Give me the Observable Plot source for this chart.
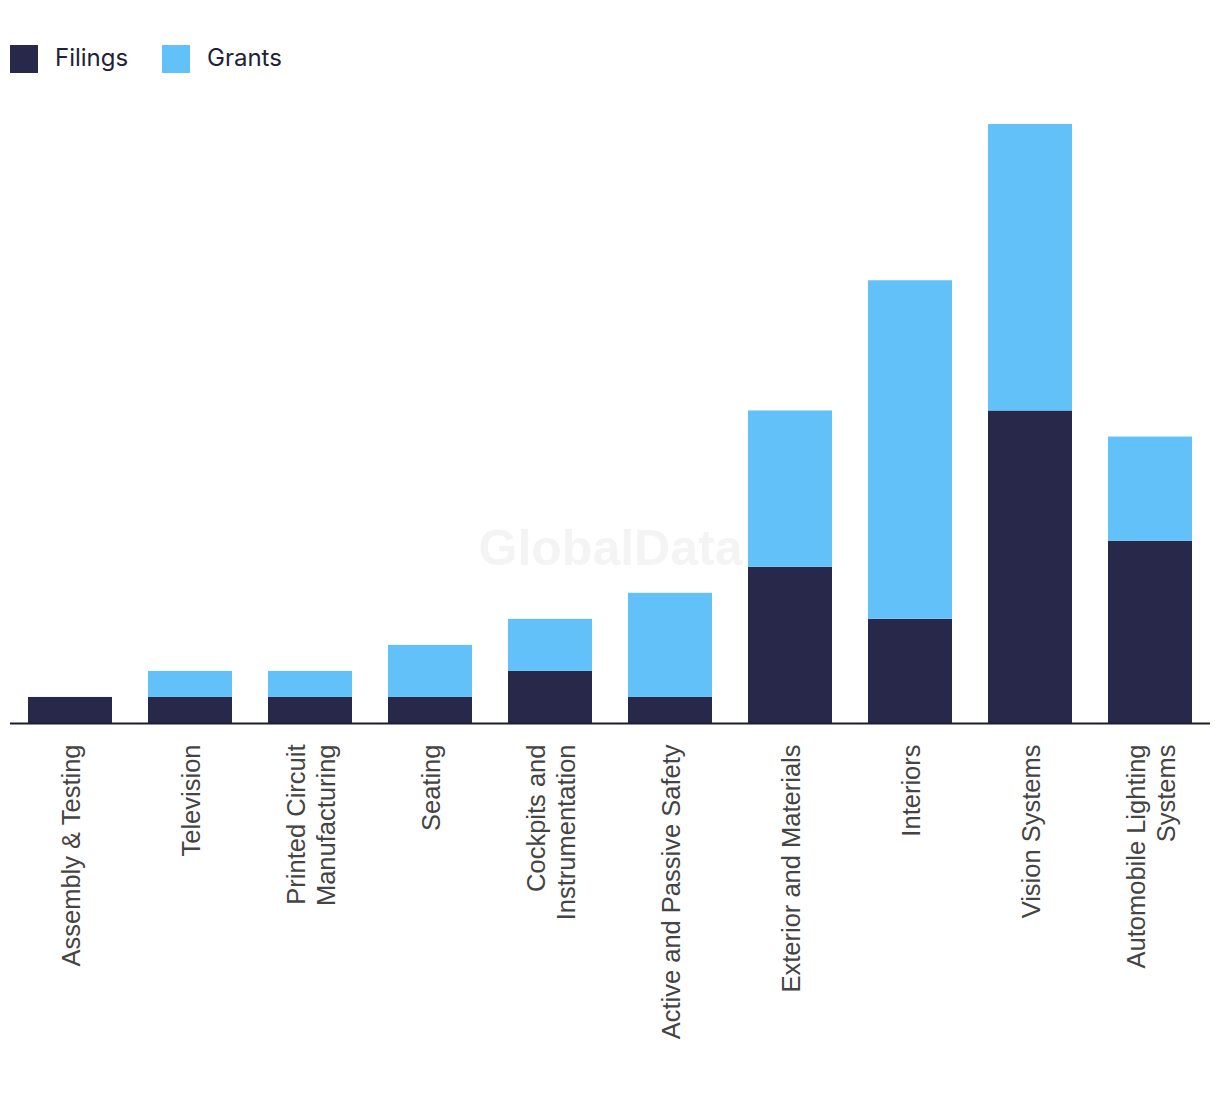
<!DOCTYPE html>
<html>
<head>
<meta charset="utf-8">
<script src="https://cdn.jsdelivr.net/npm/d3@7"></script>
<script src="https://cdn.jsdelivr.net/npm/@observablehq/plot@0.6"></script>
<style>
  html, body { margin: 0; padding: 0; background: #fff; }
  #legend { position: relative; height: 100px; width: 1220px; font-family: Inter, "Noto Sans", sans-serif; color: #20213a; font-size: 24px; }
  .sw { position: absolute; top: 45px; width: 28px; height: 28px; }
  .lab { position: absolute; top: 44px; line-height: 28px; }
  #chart svg { display: block; }
</style>
</head>
<body>
<div id="legend"></div>
<div id="chart"></div>
<script>
const categories = [
  "Assembly & Testing",
  "Television",
  "Printed Circuit\nManufacturing",
  "Seating",
  "Cockpits and\nInstrumentation",
  "Active and Passive Safety",
  "Exterior and Materials",
  "Interiors",
  "Vision Systems",
  "Automobile Lighting\nSystems"
];
const filings = [1, 1, 1, 1, 2, 1, 6, 4, 12, 7];
const grants  = [0, 1, 1, 2, 2, 4, 6, 13, 11, 4];
const seriesNames = ["Filings", "Grants"];
const seriesColors = ["#27284a", "#62c1f8"];

const rows = [];
categories.forEach((c, i) => {
  rows.push({category: c, series: "Filings", value: filings[i]});
  rows.push({category: c, series: "Grants", value: grants[i]});
});

// Legend
const legend = document.getElementById("legend");
const legendX = [[10, 55], [162, 207]];
seriesNames.forEach((s, i) => {
  const sw = document.createElement("div");
  sw.className = "sw";
  sw.style.left = legendX[i][0] + "px";
  sw.style.background = seriesColors[i];
  legend.appendChild(sw);
  const lb = document.createElement("div");
  lb.className = "lab";
  lb.style.left = legendX[i][1] + "px";
  lb.textContent = s;
  legend.appendChild(lb);
});

const chart = Plot.plot({
  width: 1220,
  height: 994,
  marginLeft: 10,
  marginRight: 10,
  marginTop: 24,
  marginBottom: 371,
  style: {fontFamily: "'Liberation Sans', Arial, sans-serif", background: "#fff"},
  x: {domain: categories, paddingInner: 0.3, paddingOuter: 0.15, label: null},
  y: {domain: [0, 23], axis: null},
  color: {domain: seriesNames, range: seriesColors},
  marks: [
    Plot.text(["GlobalData"], {frameAnchor: "middle", dy: 125, text: d => d, fontSize: 50, fontWeight: "bold", fill: "#f4f4f4", fontFamily: "'Liberation Sans', Arial, sans-serif"}),
    Plot.barY(rows, {x: "category", y: "value", fill: "series"}),
    Plot.ruleY([0], {stroke: "#1c1c30", strokeWidth: 2}),
    Plot.axisX({tickRotate: -90, tickSize: 0, tickPadding: 21, fontSize: 25.5, lineHeight: 1.18, fill: "#444", label: null})
  ]
});
document.getElementById("chart").appendChild(chart);
</script>
</body>
</html>
